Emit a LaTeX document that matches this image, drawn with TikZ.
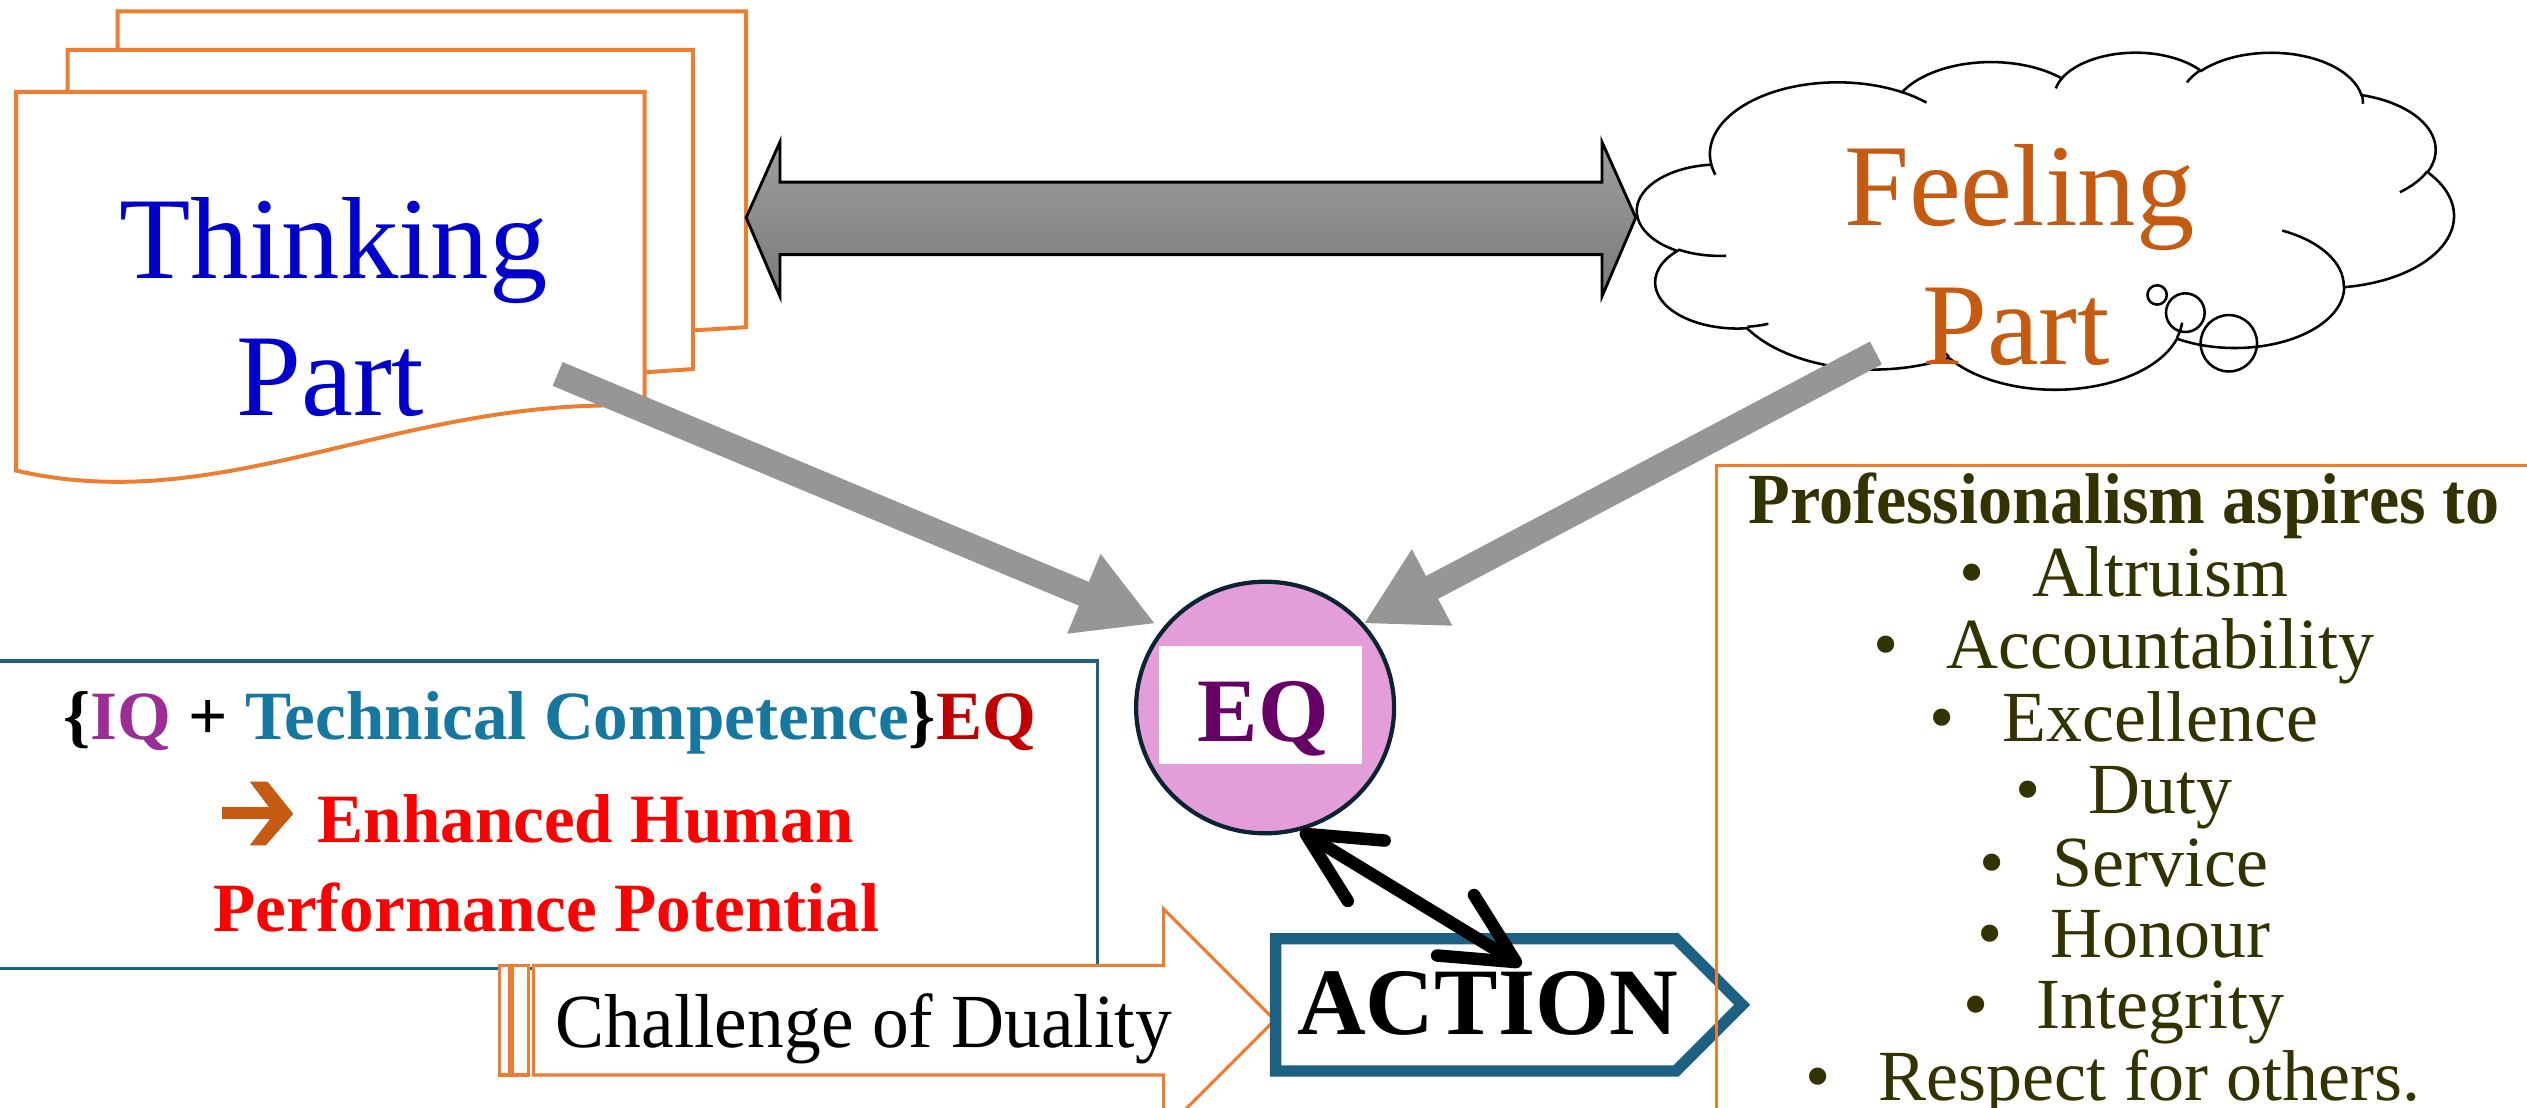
\documentclass[tikz,border=0pt]{standalone}
\usepackage{fontspec}
\setmainfont{Liberation Serif}
\usetikzlibrary{arrows.meta,calc,shapes.geometric}

\definecolor{docorange}{RGB}{237,125,49}
\definecolor{thinkblue}{RGB}{0,0,204}
\definecolor{feelbrown}{RGB}{197,90,17}
\definecolor{boxblue}{RGB}{28,96,130}
\definecolor{eqpink}{RGB}{227,158,218}
\definecolor{eqline}{RGB}{12,35,50}
\definecolor{eqtext}{RGB}{102,0,102}
\definecolor{iqpurple}{RGB}{155,45,150}
\definecolor{techteal}{RGB}{22,120,160}
\definecolor{eqred}{RGB}{192,0,0}
\definecolor{olivetext}{RGB}{51,51,0}
\definecolor{flowgray}{RGB}{150,150,150}
\definecolor{bartop}{RGB}{158,158,158}
\definecolor{barbottom}{RGB}{122,122,122}

\newcommand\myfs[1]{\fontsize{#1}{#1}\selectfont}
% elliptical arc from the current point: x radius, y radius,
% start angle and sweep given as direction angles (degrees)
\newcommand\ooarc[4]{%
  \pgfextra{%
    \pgfmathsetmacro\ooA{atan2(#1*sin(#3),#2*cos(#3))}\global\let\ooA\ooA
    \pgfmathsetmacro\ooB{atan2(#1*sin(#3+#4),#2*cos(#3+#4))}\global\let\ooB\ooB
    \pgfmathsetmacro\ooD{mod(\ooB-\ooA+720,360)}\global\let\ooD\ooD}%
  arc[start angle=\ooA, delta angle=\ooD, x radius=#1, y radius=#2]}
\newcommand\itm[1]{\textbullet\hspace{8.5pt}#1}

\begin{document}
\begin{tikzpicture}[x=0.01cm, y=-0.01cm,
  sheet/.style={draw=docorange, line width=0.7pt, fill=white},
  cloudline/.style={draw=black, line width=0.45pt},
  flowarrow/.style={draw=flowgray, line width=4.55pt, -{Triangle[length=13.7pt,width=14.2pt]}},
  linkarrow/.style={draw=black, line width=2.2pt, line cap=round,
    {Straight Barb[round,length=12.5pt,width=12.5pt]}-{Straight Barb[round,length=12.5pt,width=12.5pt]}},
  chal/.style={draw=docorange, line width=0.55pt, fill=white},
  txt/.style={anchor=base, inner sep=0pt, outer sep=0pt},
  bigword/.style={txt, font=\myfs{20.6pt}},
  leftline/.style={txt, font=\bfseries\myfs{12.2pt}},
  profline/.style={txt, text=olivetext, font=\myfs{12.7pt}},
]
\useasboundingbox (0,0) rectangle (1568,687);
\clip (0,0) rectangle (1568,687);

% ---- stacked document sheets ----
\draw[sheet] (73,7) -- (463,7) -- (463,203) -- (430,205) -- (73,205) -- cycle;
\draw[sheet] (42,31) -- (430,31) -- (430,229) -- (400,231) -- (42,231) -- cycle;
\draw[sheet] (10,57) -- (400,57) -- (400,252)
  .. controls (250,245) and (140,322) .. (10,292) -- cycle;
\node[bigword, text=thinkblue] (thinkA) at (207,173) {Thinking};
\node[bigword, text=thinkblue] (thinkB) at (205,258) {Part};

% ---- two-headed block arrow ----
\draw[line width=0.5pt, draw=black, top color=bartop, bottom color=barbottom]
  (463,135) -- (484,88) -- (484,113) -- (994,113) -- (994,88) -- (1015,135)
  -- (994,184) -- (994,158) -- (484,158) -- (484,184) -- cycle;

% ---- thought cloud (outline built from elliptical arcs) ----
\begin{scope}[shift={(1016,32)}, x=0.011713cm, y=-0.004838cm]
\draw[cloudline, fill=white] (39.00,143.70)
  \ooarc{67.53}{91.90}{-190.4875}{123.7805}
  \ooarc{53.33}{72.67}{-144.1024}{89.9452}
  \ooarc{43.65}{59.45}{-145.8079}{99.7230}
  \ooarc{48.57}{65.95}{-130.9861}{117.2417}
  \ooarc{53.33}{72.73}{-78.7089}{109.0269}
  \ooarc{67.75}{92.20}{-46.2673}{130.2690}
  \ooarc{57.85}{78.67}{0.6250}{114.0333}
  \ooarc{67.52}{92.15}{22.4516}{115.1726}
  \ooarc{77.20}{105.43}{66.2426}{75.7110}
  \ooarc{43.60}{59.18}{-274.9421}{146.7356}
  \ooarc{43.45}{59.45}{-246.8285}{152.5189}
  -- cycle;
% inner arcs
\draw[cloudline] (46.93,261.77) \ooarc{43.45}{59.45}{86.7420}{26.4295};
\draw[cloudline] (69.28,348.99) \ooarc{43.60}{59.18}{73.6105}{11.4475};
\draw[cloudline] (164.78,390.90) \ooarc{67.52}{92.15}{137.6242}{14.0811};
\draw[cloudline] (288.27,347.51) \ooarc{67.52}{92.15}{6.4533}{15.9984};
\draw[cloudline] (341.29,229.54) \ooarc{57.85}{78.67}{-70.2924}{70.9174};
\draw[cloudline] (417.98,153.54) \ooarc{53.33}{72.73}{30.3180}{27.7515};
\draw[cloudline] (383.24,54.26) \ooarc{48.57}{65.95}{-13.7443}{14.8589};
\draw[cloudline] (290.78,39.52) \ooarc{48.57}{65.95}{-149.1815}{18.1954};
\draw[cloudline] (221.41,47.20) \ooarc{43.65}{59.45}{-163.4943}{17.6864};
\draw[cloudline] (140.00,51.92) \ooarc{67.53}{91.90}{-66.7070}{12.3194};
\draw[cloudline] (41.27,157.89) \ooarc{67.53}{91.90}{157.6544}{11.8582};
\end{scope}
% thought bubbles
\draw[cloudline] (1338.5,183) circle[radius=6];
\draw[cloudline] (1356,194) circle[radius=12];
\draw[cloudline] (1383,213) circle[radius=17.5];
\node[bigword, text=feelbrown] (feelA) at (1253,140) {Feeling};
\node[bigword, text=feelbrown] (feelB) at (1251,226) {Part};

% ---- formula box ----
\draw[draw=boxblue, line width=0.65pt] (-10,410) rectangle (681,601);
\node[leftline] (formula) at (341,459)
  {\{{\color{iqpurple}IQ} + {\color{techteal}Technical Competence}\}{\color{eqred}EQ}};
\fill[feelbrown] (138,501) -- (172,501) -- (172,508) -- (138,508) -- cycle;
\fill[feelbrown] (155,485) -- (166,485) -- (182,505) -- (165,524.5) -- (155,524.5) -- (170,505) -- cycle;
\node[leftline, anchor=base west, text=red] (enh) at (197,523) {Enhanced Human};
\node[leftline, text=red] (perf) at (339,578) {Performance Potential};

% ---- striped arrow ----
\draw[chal] (310,599) rectangle (316,667);
\draw[chal] (318,599) rectangle (328,667);
\draw[chal] (331,599) -- (722,599) -- (722,564) -- (791,633) -- (722,702)
  -- (722,667) -- (331,667) -- cycle;
\node[txt, font=\myfs{13.5pt}, xscale=0.96] (duality) at (536,650) {Challenge of Duality};

% ---- EQ ----
\node[ellipse, draw=eqline, fill=eqpink, line width=0.75pt, minimum width=1.6cm,
  minimum height=1.56cm, inner sep=0pt] (eq) at (785,439) {};
\node[fill=white, minimum width=1.26cm, minimum height=0.73cm, inner sep=0pt] (eqbox) at (782,437.5) {};
\node[txt, text=eqtext, font=\bfseries\myfs{16pt}] (eqtxt) at (784,460) {EQ};

% ---- ACTION ----
\draw[draw=boxblue, line width=2pt, fill=white] (791.5,582.5) -- (1040,582.5) -- (1081,623.5)
  -- (1040,664.5) -- (791.5,664.5) -- cycle;
\node[txt, font=\bfseries\myfs{16.8pt}] (action) at (923,642) {ACTION};

% ---- professionalism list ----
\draw[draw=docorange, line width=0.6pt] (1065,289) rectangle (1590,700);
\node[profline, font=\bfseries\myfs{12.7pt}, xscale=0.947] (p0) at (1318,325) {Professionalism aspires to};
\node[profline] (p1) at (1318,370) {\itm{Altruism}};
\node[profline] (p2) at (1318,415) {\itm{Accountability}};
\node[profline] (p3) at (1318,460) {\itm{Excellence}};
\node[profline] (p4) at (1318,505) {\itm{Duty}};
\node[profline] (p5) at (1318,550) {\itm{Service}};
\node[profline] (p6) at (1318,594) {\itm{Honour}};
\node[profline] (p7) at (1318,638) {\itm{Integrity}};
\node[profline] (p8) at (1311,683) {\itm{Respect for others.}};

% ---- connectors into EQ ----
\coordinate (tl) at (346,232);
\coordinate (tlEnd) at (717,387);
\coordinate (tr) at (1164,219);
\coordinate (trEnd) at (846,387);
\draw[flowarrow] (tl) -- (tlEnd);
\draw[flowarrow] (tr) -- (trEnd);

\coordinate (actin) at (944,599);
\draw[linkarrow] (eq.-74) -- (actin);
\end{tikzpicture}
\end{document}
